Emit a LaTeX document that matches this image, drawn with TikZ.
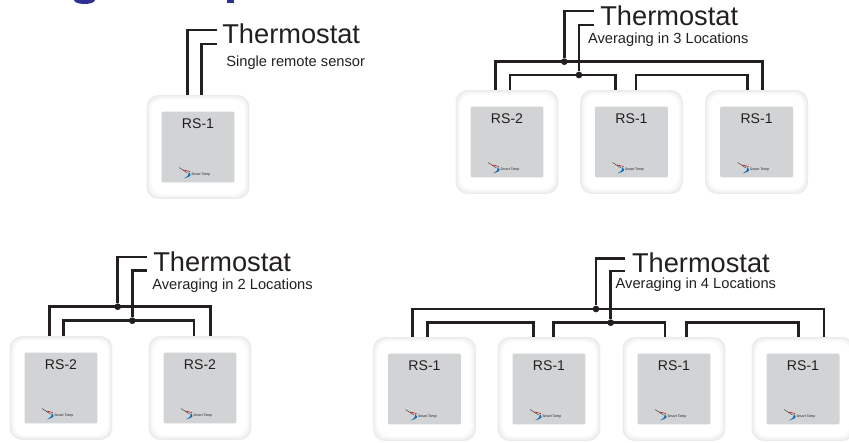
\documentclass[tikz,border=0pt]{standalone}
\usepackage{fontspec}
\setmainfont{Liberation Sans}
\usepackage{xcolor}
\usetikzlibrary{positioning,calc}
\definecolor{inkdark}{HTML}{231F20}
\definecolor{titleblue}{HTML}{2E3192}
\definecolor{facegray}{HTML}{D1D3D4}
\definecolor{swooshblue}{HTML}{0F6FB8}
\tikzset{
  wire/.style={draw=inkdark,line width=1.5pt},
  junction/.style={circle,fill=inkdark,inner sep=0pt,minimum size=3.8pt},
  rimtop/.style={rounded corners=0.2cm,minimum width=1.86cm,minimum height=1.88cm,inner sep=0pt,fill=white},
  face/.style={rounded corners=0.04cm,minimum width=1.46cm,minimum height=1.42cm,inner sep=0pt,fill=facegray},
  rslabel/.style={anchor=base,text=inkdark,font=\fontsize{8}{8}\selectfont,inner sep=0pt},
  brand/.style={anchor=west,text=inkdark,font=\fontsize{2}{2}\selectfont\itshape,inner sep=0pt},
  tstat/.style={anchor=base west,text=inkdark,font=\fontsize{15.5}{15.5}\selectfont,inner sep=0pt},
  note/.style={anchor=base west,text=inkdark,font=\fontsize{8.35}{8.35}\selectfont,inner sep=0pt}
}
\newcommand{\rsunit}[4]{
\foreach \w/\g in {2.06/8,2.02/6,1.98/4,1.94/2.5,1.90/1}
  \node [rounded corners=0.24cm,minimum width=\w cm,minimum height=\w cm+0.02cm,inner sep=0pt,fill=black!\g] (#1r\g) at (#2,#3) {};
\node [rimtop] (#1t) at (#2,#3) {};
\node [face] (#1) at (#2,#3) {};
\node [rslabel] (#1l) at ([yshift=0.38cm]#1.center) {#4};
\draw [inkdark,line width=0.2pt] ([shift={(-0.38cm,-0.41cm)}]#1.center) -- ([shift={(-0.21cm,-0.52cm)}]#1.center);
\draw [red!80!black,line width=0.3pt] ([shift={(-0.29cm,-0.46cm)}]#1.center) -- ([shift={(-0.16cm,-0.49cm)}]#1.center);
\fill [swooshblue] ([shift={(-0.18cm,-0.5cm)}]#1.center) .. controls ([shift={(-0.13cm,-0.58cm)}]#1.center) .. ([shift={(-0.28cm,-0.63cm)}]#1.center) .. controls ([shift={(-0.19cm,-0.57cm)}]#1.center) .. cycle;
\node [brand] (#1b) at ([shift={(-0.14cm,-0.56cm)}]#1.center) {Smart Temp};
}

\begin{document}
\begin{tikzpicture}[x=0.02cm,y=0.02cm]
\useasboundingbox (0,0) rectangle (849,-443);
\clip (0,0) rectangle (849,-443);
\fill [titleblue] (74,0) arc (180:360:10.5 and 4) -- cycle;
\fill [titleblue] (227,0) rectangle (234,-3);

\coordinate (a1) at (187.3,-96);
\coordinate (b1) at (201.7,-96);
\coordinate (sa) at (217,-30);
\coordinate (sb) at (217,-44);
\draw [wire] (sa) -| (a1);
\draw [wire] (sb) -| (b1);
\rsunit{s1}{198}{-147}{RS-1}
\node [tstat] (s) at (222,-43) {Thermostat};
\node [note] (sn) at (226,-66) {Single remote sensor};

\coordinate (p1a) at (495.7,-91);
\coordinate (p1b) at (510,-91);
\coordinate (p2a) at (615.7,-91);
\coordinate (p2b) at (636,-91);
\coordinate (p3a) at (747.3,-91);
\coordinate (p3b) at (762.7,-91);
\coordinate (pa) at (594,-11);
\coordinate (pb) at (594,-25);
\node [junction] (pj1) at (564.3,-61.7) {};
\node [junction] (pj2) at (579,-75) {};
\draw [wire] (pa) -| (pj1);
\draw [wire] (pb) -| (pj2);
\draw [wire] (p1a) |- (pj1.center) -| (p3b);
\draw [wire] (p1b) |- (pj2.center) -| (p2a);
\draw [wire] (p2b) |- (p3a |- pj2) -- (p3a);
\rsunit{p1}{507}{-142}{RS-2}
\rsunit{p2}{631.5}{-142}{RS-1}
\rsunit{p3}{756.6}{-142}{RS-1}
\node [tstat] (p) at (600,-25) {Thermostat};
\node [note] (pn) at (587.7,-43.5) {Averaging in 3 Locations};

\coordinate (l1a) at (49.3,-336);
\coordinate (l1b) at (63.3,-336);
\coordinate (l2a) at (194,-336);
\coordinate (l2b) at (210.7,-336);
\coordinate (la) at (147,-257);
\coordinate (lb) at (147,-270.7);
\node [junction] (lj1) at (117.7,-306.7) {};
\node [junction] (lj2) at (132.3,-320.7) {};
\draw [wire] (la) -| (lj1);
\draw [wire] (lb) -| (lj2);
\draw [wire] (l1a) |- (lj1.center) -| (l2b);
\draw [wire] (l1b) |- (lj2.center) -| (l2a);
\rsunit{l1}{61}{-388}{RS-2}
\rsunit{l2}{200}{-388}{RS-2}
\node [tstat] (l) at (153,-271.7) {Thermostat};
\node [note] (ln) at (152,-289) {Averaging in 2 Locations};

\coordinate (q1a) at (412.7,-338);
\coordinate (q1b) at (427.7,-338);
\coordinate (q2a) at (533.3,-338);
\coordinate (q2b) at (553.3,-338);
\coordinate (q3a) at (665,-338);
\coordinate (q3b) at (686.7,-338);
\coordinate (q4a) at (798.3,-338);
\coordinate (q4b) at (824,-338);
\coordinate (qa) at (625,-258.3);
\coordinate (qb) at (625,-271);
\node [junction] (qj1) at (596,-309) {};
\node [junction] (qj2) at (610.7,-322.7) {};
\draw [wire] (qa) -| (qj1);
\draw [wire] (qb) -| (qj2);
\draw [wire] (q1a) |- (qj1.center) -| (q4b);
\draw [wire] (q1b) |- (q2a |- qj2) -- (q2a);
\draw [wire] (q2b) |- (qj2.center) -| (q3a);
\draw [wire] (q3b) |- (q4a |- qj2) -- (q4a);
\rsunit{q1}{424.5}{-389}{RS-1}
\rsunit{q2}{549}{-389}{RS-1}
\rsunit{q3}{674}{-389}{RS-1}
\rsunit{q4}{803}{-389}{RS-1}
\node [tstat] (q) at (631.7,-272.7) {Thermostat};
\node [note] (qn) at (615.3,-288) {Averaging in 4 Locations};
\end{tikzpicture}
\end{document}
